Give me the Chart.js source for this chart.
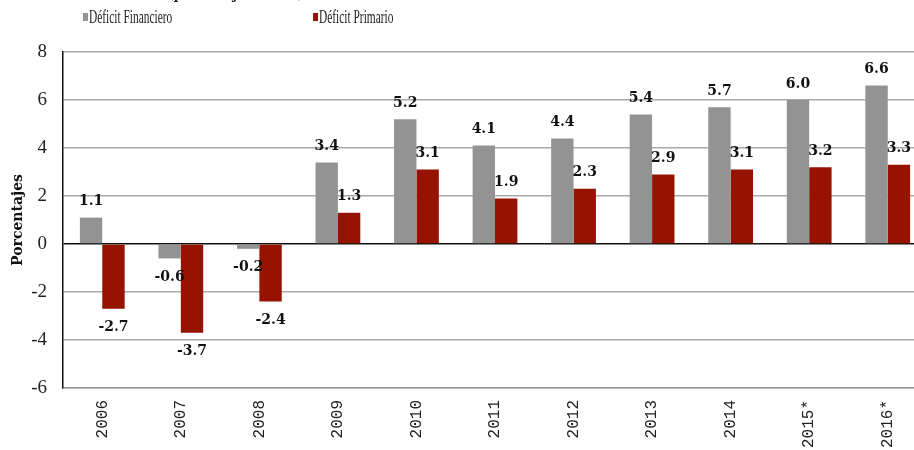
<!DOCTYPE html>
<html>
<head>
<meta charset="utf-8">
<script src="https://cdn.jsdelivr.net/npm/chart.js@4"></script>
<style>
  html, body { margin: 0; padding: 0; background: #fff; overflow: hidden; }
  #wrap { position: relative; width: 930px; height: 450px; }
  #sub { position: absolute; left: 168px; top: -18px; font: bold 17px "DejaVu Serif"; color: #222; white-space: nowrap; transform: scaleX(0.7); transform-origin: left top; }
  .leg { position: absolute; top: 6px; font: 19px "Liberation Serif"; color: #222; white-space: nowrap; }
  .leg i { position: absolute; left: 0; top: 7px; width: 5px; height: 8px; }
  .leg span { position: absolute; left: 6px; top: 0; transform: scaleX(0.6); transform-origin: left top; }
</style>
</head>
<body>
<div id="wrap">
  <div id="sub">(porcentaje del PIB)</div>
  <div id="legend"></div>
  <canvas id="myChart" width="930" height="450"></canvas>
</div>
<script>
var years = ['2006', '2007', '2008', '2009', '2010', '2011', '2012', '2013', '2014', '2015*', '2016*'];
var financiero = [1.1, -0.6, -0.2, 3.4, 5.2, 4.1, 4.4, 5.4, 5.7, 6.0, 6.6];
var primario = [-2.7, -3.7, -2.4, 1.3, 3.1, 1.9, 2.3, 2.9, 3.1, 3.2, 3.3];
var seriesNames = ['Déficit Financiero', 'Déficit Primario'];
var seriesColors = ['#939393', '#951300'];
var legendLeft = [83, 313];

// labels over / under each bar
var valueLabels = {
    id: 'valueLabels',
    afterDatasetsDraw: function (chart) {
        var ctx = chart.ctx;
        ctx.save();
        ctx.font = 'bold 14px "DejaVu Serif"';
        ctx.fillStyle = '#111';
        ctx.textAlign = 'center';
        ctx.textBaseline = 'middle';
        chart.data.datasets.forEach(function (ds, i) {
            chart.getDatasetMeta(i).data.forEach(function (bar, j) {
                var v = ds.data[j];
                var y = v >= 0 ? bar.y - 16 : bar.y + 19;
                ctx.fillText(v.toFixed(1), bar.x, y);
            });
        });
        ctx.restore();
    }
};

function buildLegend() {
    var html = '';
    seriesNames.forEach(function (name, i) {
        html += '<div class="leg" style="left:' + legendLeft[i] + 'px"><i style="background:' +
            seriesColors[i] + '"></i><span>' + name + '</span></div>';
    });
    document.getElementById('legend').innerHTML = html;
}

function paintTheChart() {
    var ctx = document.getElementById('myChart').getContext('2d');
    var myBarChart = new Chart(ctx, {
        type: 'bar',
        data: {
            labels: years,
            datasets: [{
                    label: seriesNames[0],
                    data: financiero,
                    backgroundColor: seriesColors[0]
                }, {
                    label: seriesNames[1],
                    data: primario,
                    backgroundColor: seriesColors[1]
                }]
        },
        options: {
            responsive: false,
            animation: false,
            categoryPercentage: 0.57,
            barPercentage: 1.0,
            layout: { padding: { top: 52, right: 3, left: 0, bottom: 0 } },
            plugins: {
                legend: { display: false },
                tooltip: { enabled: false }
            },
            scales: {
                x: {
                    grid: { display: false, drawTicks: false },
                    border: { color: '#999', width: 1.5 },
                    ticks: {
                        minRotation: 90,
                        maxRotation: 90,
                        padding: 12,
                        color: '#222',
                        font: { family: 'Liberation Mono', size: 16 }
                    },
                    afterFit: function (s) { s.height = 62; }
                },
                y: {
                    min: -6,
                    max: 8,
                    ticks: {
                        stepSize: 2,
                        padding: 16,
                        color: '#222',
                        font: { family: 'Liberation Serif', size: 19 }
                    },
                    grid: {
                        drawTicks: false,
                        lineWidth: 1.5,
                        color: function (c) { return c.tick && c.tick.value === 0 ? '#111' : '#aaa'; }
                    },
                    border: { color: '#111', width: 1.5 },
                    title: {
                        display: true,
                        text: 'Porcentajes',
                        color: '#111',
                        padding: { top: 10, bottom: 0 },
                        font: { family: 'DejaVu Serif', size: 14, weight: 'bold' }
                    },
                    afterFit: function (s) { s.width = 63; }
                }
            }
        },
        plugins: [valueLabels]
    });
}

buildLegend();
paintTheChart();
</script>
</body>
</html>
